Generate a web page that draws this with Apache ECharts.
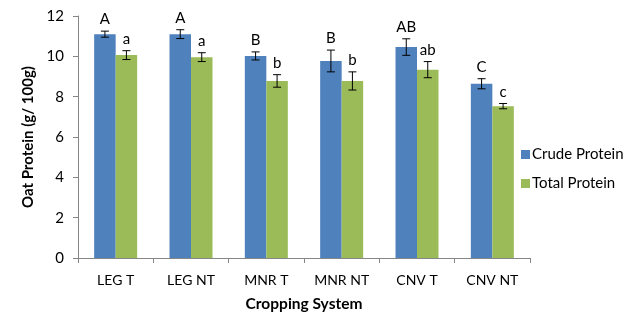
<!DOCTYPE html>
<html>
<head>
<meta charset="utf-8">
<script src="https://cdn.jsdelivr.net/npm/echarts@6/dist/echarts.min.js"></script>
<style>
  html, body { margin: 0; padding: 0; background: #fff; }
  #chart { width: 640px; height: 332px; }
</style>
</head>
<body>
<div id="chart"></div>
<script>
var systems = ["LEG T", "LEG NT", "MNR T", "MNR NT", "CNV T", "CNV NT"];
var crude = [11.1, 11.1, 10.02, 9.77, 10.46, 8.64];
var crudeErr = [0.15, 0.22, 0.2, 0.54, 0.41, 0.25];
var crudeLetters = ["A", "A", "B", "B", "AB", "C"];
var total = [10.06, 9.96, 8.78, 8.78, 9.34, 7.53];
var totalErr = [0.22, 0.22, 0.31, 0.45, 0.4, 0.13];
var totalLetters = ["a", "a", "b", "b", "ab", "c"];

var FONT = "Lato";
var BAR_W = 21.5;

function errorSeries(name, values, errs, letters, side) {
  var rows = values.map(function (v, i) { return [i, v, errs[i], letters[i]]; });
  return {
    name: name + " err",
    type: "custom",
    z: 10,
    silent: true,
    data: rows,
    renderItem: function (params, api) {
      var i = api.value(0);
      var v = api.value(1);
      var e = api.value(2);
      var top = api.coord([i, v + e]);
      var bot = api.coord([i, v - e]);
      var x = top[0] + side * BAR_W / 2;
      var cap = 4;
      var style = { stroke: "#000", lineWidth: 1 };
      return {
        type: "group",
        children: [
          { type: "line", shape: { x1: x, y1: top[1], x2: x, y2: bot[1] }, style: style },
          { type: "line", shape: { x1: x - cap, y1: top[1], x2: x + cap, y2: top[1] }, style: style },
          { type: "line", shape: { x1: x - cap, y1: bot[1], x2: x + cap, y2: bot[1] }, style: style },
          {
            type: "text",
            style: {
              text: letters[i],
              x: x,
              y: top[1] - 4,
              align: "center",
              verticalAlign: "bottom",
              fontFamily: FONT,
              fontSize: 15,
              fill: "#000"
            }
          }
        ]
      };
    }
  };
}

var chart = echarts.init(document.getElementById("chart"));
chart.setOption({
  backgroundColor: "#fff",
  animation: false,
  textStyle: { fontFamily: FONT },
  grid: { left: 78, right: 110, top: 16, bottom: 74 },
  legend: {
    orient: "vertical",
    left: 516,
    top: 142,
    itemWidth: 9,
    itemHeight: 9,
    itemGap: 14,
    icon: "rect",
    data: ["Crude Protein", "Total Protein"],
    textStyle: { fontFamily: FONT, fontSize: 15, color: "#000", padding: [0, 0, 0, -3] }
  },
  xAxis: {
    type: "category",
    data: systems,
    name: "Cropping System",
    nameLocation: "middle",
    nameGap: 38,
    nameTextStyle: { fontFamily: FONT, fontSize: 15.5, fontWeight: "bold", color: "#000" },
    axisLine: { lineStyle: { color: "#868686" } },
    axisTick: { show: true, length: 5, lineStyle: { color: "#868686" } },
    axisLabel: { fontFamily: FONT, fontSize: 14, color: "#000", margin: 15 }
  },
  yAxis: {
    type: "value",
    min: 0,
    max: 12,
    interval: 2,
    name: "Oat Protein (g/ 100g)",
    nameLocation: "middle",
    nameRotate: 90,
    nameGap: 39,
    nameTextStyle: { fontFamily: FONT, fontSize: 15, fontWeight: "bold", color: "#000" },
    splitLine: { show: false },
    axisLine: { show: true, lineStyle: { color: "#868686" } },
    axisTick: { show: true, length: 5, lineStyle: { color: "#868686" } },
    axisLabel: { fontFamily: FONT, fontSize: 15, color: "#000", margin: 14 }
  },
  series: [
    {
      name: "Crude Protein",
      type: "bar",
      data: crude,
      barWidth: BAR_W,
      barGap: "0%",
      itemStyle: { color: "#4F81BD" }
    },
    {
      name: "Total Protein",
      type: "bar",
      data: total,
      barWidth: BAR_W,
      barGap: "0%",
      itemStyle: { color: "#9BBB59" }
    },
    errorSeries("Crude Protein", crude, crudeErr, crudeLetters, -1),
    errorSeries("Total Protein", total, totalErr, totalLetters, 1)
  ]
});
</script>
</body>
</html>
